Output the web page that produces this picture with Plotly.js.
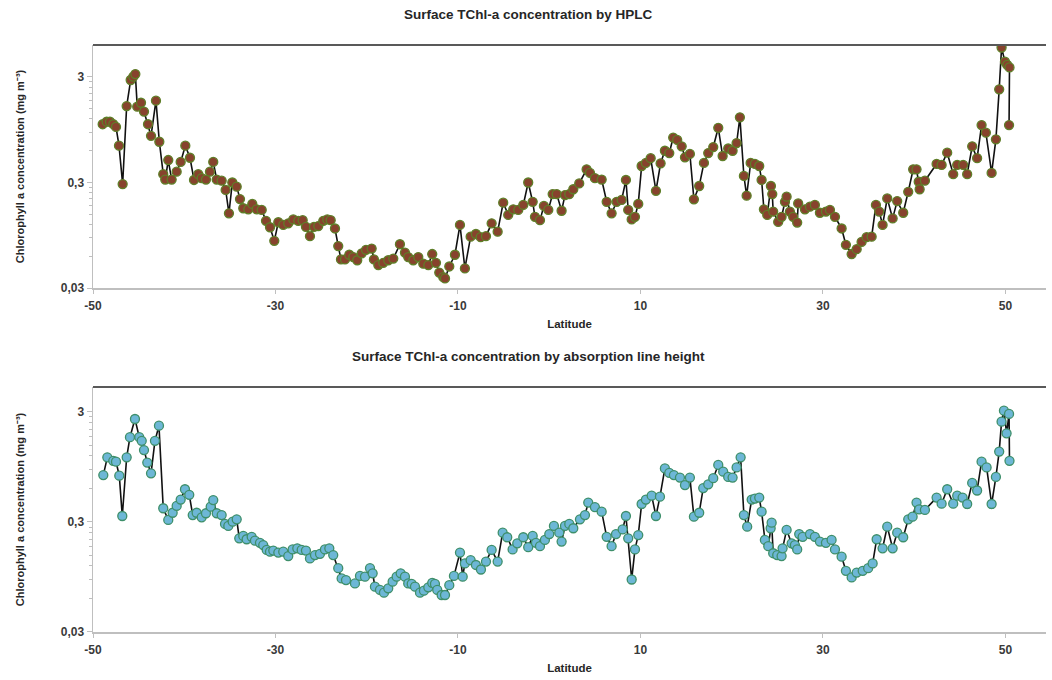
<!DOCTYPE html>
<html>
<head>
<meta charset="utf-8">
<script src="https://cdn.plot.ly/plotly-3.0.1.min.js"></script>
<style>
html,body{margin:0;padding:0;background:#fff;}
#chart{width:1052px;height:680px;}
</style>
</head>
<body>
<div id="chart"></div>
<script>
// ---- HPLC series (top panel) ----
const hplcLat = [-48.94,-48.50,-48.14,-47.78,-47.48,-47.15,-46.75,-46.31,-45.87,-45.58,-45.36,-45.15,-44.74,-44.41,-43.97,-43.64,-43.10,-42.73,-42.30,-42.08,-41.75,-41.38,-40.83,-40.39,-39.88,-39.37,-38.93,-38.46,-38.09,-37.62,-37.18,-36.82,-36.44,-35.90,-35.46,-35.10,-34.73,-34.25,-33.89,-33.53,-32.98,-32.54,-32.06,-31.51,-31.04,-30.60,-30.13,-29.69,-29.15,-28.60,-28.05,-27.50,-27.02,-26.66,-26.22,-25.78,-25.31,-24.76,-24.32,-23.95,-23.48,-23.12,-22.82,-22.38,-21.91,-21.47,-21.04,-20.55,-20.08,-19.46,-19.21,-18.73,-18.19,-17.64,-17.09,-16.36,-15.81,-15.45,-14.90,-14.35,-13.80,-13.25,-12.82,-12.41,-12.05,-11.61,-11.42,-10.95,-10.33,-9.78,-9.24,-8.61,-8.03,-7.51,-6.93,-6.31,-5.65,-5.04,-4.49,-3.94,-3.39,-2.84,-2.30,-1.81,-1.56,-1.01,-0.58,-0.10,0.38,0.82,1.36,1.73,2.20,2.64,3.29,4.10,4.47,5.01,5.75,6.30,6.84,7.39,7.94,8.41,8.66,9.04,9.40,9.76,10.13,10.60,11.12,11.70,12.21,12.68,13.16,13.59,14.03,14.52,14.88,15.42,15.86,16.44,16.96,17.43,17.98,18.53,19.01,19.62,20.10,20.54,20.90,21.34,21.64,22.08,22.55,23.02,23.28,23.53,23.90,24.30,24.45,24.55,25.10,25.47,25.84,26.02,26.38,26.74,27.18,27.29,28.03,28.58,29.12,29.67,30.33,30.77,31.32,32.05,32.52,33.15,33.70,34.24,34.79,35.34,35.81,36.17,36.54,37.05,37.64,38.14,38.80,39.35,39.89,40.26,40.50,40.60,41.18,42.46,43.01,43.62,44.28,44.72,45.37,45.81,46.36,46.90,47.39,47.86,48.49,48.96,49.32,49.58,49.95,50.20,50.45,50.40];
const hplcChl = [1.07,1.13,1.13,1.07,1.01,0.67,0.29,1.59,2.81,3.02,3.20,1.57,1.71,1.41,1.07,0.83,1.79,0.73,0.36,0.32,0.49,0.32,0.38,0.47,0.67,0.515,0.317,0.36,0.33,0.32,0.38,0.47,0.32,0.312,0.255,0.153,0.30,0.274,0.209,0.171,0.167,0.188,0.167,0.165,0.130,0.113,0.084,0.126,0.119,0.123,0.134,0.130,0.132,0.114,0.093,0.114,0.116,0.130,0.134,0.132,0.110,0.075,0.056,0.056,0.062,0.059,0.055,0.064,0.069,0.071,0.056,0.0495,0.052,0.055,0.057,0.078,0.065,0.059,0.055,0.059,0.051,0.0495,0.063,0.052,0.042,0.038,0.037,0.048,0.062,0.119,0.046,0.092,0.0975,0.091,0.093,0.123,0.1025,0.193,0.148,0.167,0.165,0.184,0.30,0.197,0.142,0.132,0.18,0.165,0.233,0.233,0.162,0.228,0.233,0.259,0.294,0.40,0.37,0.33,0.32,0.197,0.153,0.197,0.205,0.317,0.165,0.134,0.142,0.188,0.43,0.46,0.51,0.25,0.456,0.60,0.57,0.80,0.76,0.66,0.52,0.56,0.208,0.278,0.46,0.57,0.65,0.99,0.535,0.63,0.60,0.71,1.245,0.346,0.225,0.46,0.45,0.43,0.317,0.167,0.148,0.278,0.233,0.159,0.127,0.142,0.197,0.22,0.159,0.142,0.125,0.19,0.167,0.177,0.184,0.155,0.159,0.165,0.142,0.110,0.077,0.063,0.070,0.082,0.091,0.092,0.184,0.159,0.119,0.212,0.137,0.20,0.155,0.245,0.40,0.40,0.305,0.259,0.312,0.45,0.44,0.575,0.36,0.44,0.44,0.36,0.66,0.51,1.05,0.89,0.37,0.77,2.29,5.70,4.19,3.90,3.70,1.05];

// ---- Absorption line height series (bottom panel) ----
const alhLat = [-48.87,-48.43,-47.78,-47.48,-47.12,-46.79,-46.31,-45.95,-45.40,-44.93,-44.66,-44.41,-44.05,-43.64,-43.21,-42.77,-42.30,-41.75,-41.27,-40.83,-40.39,-39.92,-39.45,-39.07,-38.64,-38.09,-37.62,-37.10,-36.82,-36.44,-35.90,-35.53,-35.17,-34.69,-34.25,-33.97,-33.53,-33.16,-32.61,-32.25,-31.70,-31.34,-30.96,-30.60,-30.24,-29.69,-29.15,-28.60,-28.12,-27.61,-27.13,-26.66,-26.22,-25.67,-25.12,-24.58,-24.10,-23.67,-23.12,-22.75,-22.27,-21.29,-20.74,-20.19,-19.64,-19.35,-19.10,-18.55,-18.11,-17.64,-17.16,-16.72,-16.28,-15.81,-15.45,-15.07,-14.71,-14.16,-13.73,-13.25,-12.82,-12.52,-12.27,-11.79,-11.42,-10.95,-10.44,-9.78,-9.48,-9.24,-8.61,-8.03,-7.48,-6.93,-6.31,-5.65,-5.10,-4.60,-4.01,-3.50,-2.84,-2.30,-1.81,-1.45,-1.01,-0.47,0.01,0.52,1.10,1.36,1.73,2.20,2.64,3.37,3.92,4.28,5.01,5.75,6.30,6.84,7.32,8.05,8.41,8.66,9.04,9.40,9.76,10.13,10.60,11.23,11.70,12.14,12.68,13.16,13.67,14.33,14.88,15.42,15.86,16.44,16.88,17.43,17.98,18.53,19.07,19.62,20.10,20.54,20.98,21.34,21.70,22.19,22.55,23.02,23.28,23.64,24.01,24.27,24.38,24.55,24.99,25.47,25.58,26.02,26.57,26.93,27.18,27.40,27.78,28.58,29.12,29.67,30.33,30.95,31.32,32.05,32.52,33.15,33.70,34.36,34.96,35.45,35.89,36.54,37.05,37.64,38.14,38.80,39.35,39.83,40.26,40.55,41.18,42.46,43.01,43.62,44.28,44.72,45.31,45.81,46.36,46.90,47.39,47.94,48.49,48.96,49.32,49.58,49.84,50.13,50.40,50.45];
const alhChl = [0.80,1.16,1.08,1.06,0.79,0.34,1.16,1.77,2.59,1.77,1.64,1.35,1.04,0.83,1.64,2.25,0.40,0.313,0.364,0.42,0.48,0.595,0.53,0.347,0.364,0.331,0.36,0.413,0.475,0.36,0.347,0.288,0.276,0.302,0.317,0.213,0.224,0.209,0.22,0.203,0.194,0.185,0.167,0.161,0.165,0.158,0.161,0.147,0.169,0.173,0.167,0.165,0.140,0.150,0.154,0.169,0.173,0.150,0.114,0.092,0.089,0.083,0.097,0.0955,0.114,0.1025,0.0774,0.0723,0.0683,0.0749,0.086,0.0955,0.1025,0.0955,0.083,0.082,0.0774,0.0683,0.0712,0.0764,0.084,0.082,0.0723,0.0651,0.0651,0.080,0.097,0.158,0.0955,0.126,0.135,0.122,0.111,0.131,0.167,0.131,0.24,0.218,0.169,0.192,0.218,0.177,0.224,0.194,0.181,0.206,0.233,0.276,0.24,0.199,0.276,0.288,0.263,0.317,0.347,0.45,0.41,0.372,0.22,0.181,0.233,0.257,0.34,0.213,0.090,0.169,0.228,0.437,0.48,0.52,0.34,0.51,0.92,0.84,0.80,0.76,0.65,0.76,0.335,0.364,0.61,0.66,0.75,0.99,0.86,0.77,0.76,0.94,1.16,0.347,0.272,0.48,0.49,0.50,0.372,0.206,0.181,0.263,0.296,0.156,0.150,0.147,0.173,0.254,0.192,0.185,0.169,0.233,0.22,0.233,0.22,0.199,0.194,0.206,0.169,0.145,0.108,0.094,0.104,0.108,0.114,0.126,0.209,0.173,0.272,0.173,0.24,0.218,0.317,0.335,0.45,0.39,0.386,0.50,0.44,0.595,0.44,0.52,0.50,0.437,0.68,0.58,1.06,0.94,0.437,0.77,1.31,2.45,3.08,1.92,2.88,1.08];

// ---- axis ticks ----
const xTicks = [-50,-30,-10,10,30,50];
const xTickText = ['-50','-30','-10','10','30','50'];
const yTicks = [0.03,0.3,3];
const yTickText = ['0,03','0,3','3'];
const yMinorTicks = [0.06,0.09,0.12,0.15,0.18,0.21,0.24,0.27,0.6,0.9,1.2,1.5,1.8,2.1,2.4,2.7];

const txtColor = '#3a3a3a';
const FAM = '"Liberation Sans", Arial, sans-serif';
const bold = {family:FAM, size:12, color:txtColor, weight:'bold'};
const yTitleFont = {family:FAM, size:11, color:'#262626', weight:'bold'};
const xTitleFont = {family:FAM, size:11.5, color:'#262626', weight:'bold'};

function xAxis(anchor){
  return {
    anchor: anchor, range:[-50,54.45], tickmode:'array', tickvals:xTicks, ticktext:xTickText,
    showgrid:false, zeroline:false, showline:true, linecolor:'#bfbfbf', linewidth:1.5,
    ticks:'outside', ticklen:4, tickcolor:'#bfbfbf', tickfont:bold, ticklabelstandoff:2,
    title:{text:'Latitude', font:xTitleFont, standoff:8}, automargin:false
  };
}
function yAxis(anchor, domain, top){
  return {
    anchor: anchor, domain: domain, type:'log', range:[Math.log10(0.03), Math.log10(top)],
    tickmode:'array', tickvals:yTicks, ticktext:yTickText,
    showgrid:false, zeroline:false, showline:true, linecolor:'#bfbfbf', linewidth:1.5,
    ticks:'outside', ticklen:5, tickcolor:'#bfbfbf', tickfont:bold,
    minor:{tickmode:'array', tickvals:yMinorTicks, ticks:'outside', ticklen:3, tickcolor:'#bfbfbf', showgrid:false},
    title:{text:'Chlorophyll a concentration (mg m\u207B\u00B3)', font:yTitleFont, standoff:34}, automargin:false
  };
}

const traces = [
  {x:hplcLat, y:hplcChl, xaxis:'x', yaxis:'y', type:'scatter', mode:'lines+markers',
   line:{color:'#111111', width:1.6},
   marker:{size:9, color:'#87432d', line:{color:'#5e7f28', width:1.3}}, name:'HPLC'},
  {x:alhLat, y:alhChl, xaxis:'x2', yaxis:'y2', type:'scatter', mode:'lines+markers',
   line:{color:'#111111', width:1.6},
   marker:{size:9, color:'#6db7d6', line:{color:'#3e8f6a', width:1.3}}, name:'Absorption line height'}
];

const layout = {
  width:1052, height:680,
  margin:{l:93, r:6, t:45, b:48},
  paper_bgcolor:'#ffffff', plot_bgcolor:'#ffffff',
  showlegend:false,
  xaxis: xAxis('y'),
  yaxis: yAxis('x', [0.586, 1], 6.03),
  xaxis2: xAxis('y2'),
  yaxis2: yAxis('x2', [0, 0.4174], 5.06),
  shapes:[
    {type:'line', xref:'paper', yref:'paper', x0:0, x1:1, y0:1, y1:1, line:{color:'#595959', width:2}},
    {type:'line', xref:'paper', yref:'paper', x0:0, x1:1, y0:0.4174, y1:0.4174, line:{color:'#595959', width:2}}
  ],
  annotations:[
    {text:'Surface TChl-a concentration by HPLC', xref:'paper', yref:'paper', x:0.457, y:1.0528,
     xanchor:'center', yanchor:'middle', showarrow:false, font:{family:FAM, size:13.5, color:'#262626', weight:'bold'}},
    {text:'Surface TChl-a concentration by absorption line height', xref:'paper', yref:'paper', x:0.457, y:0.4685,
     xanchor:'center', yanchor:'middle', showarrow:false, font:{family:FAM, size:13.5, color:'#262626', weight:'bold'}}
  ]
};

Plotly.newPlot('chart', traces, layout, {displayModeBar:false, staticPlot:true});
</script>
</body>
</html>
